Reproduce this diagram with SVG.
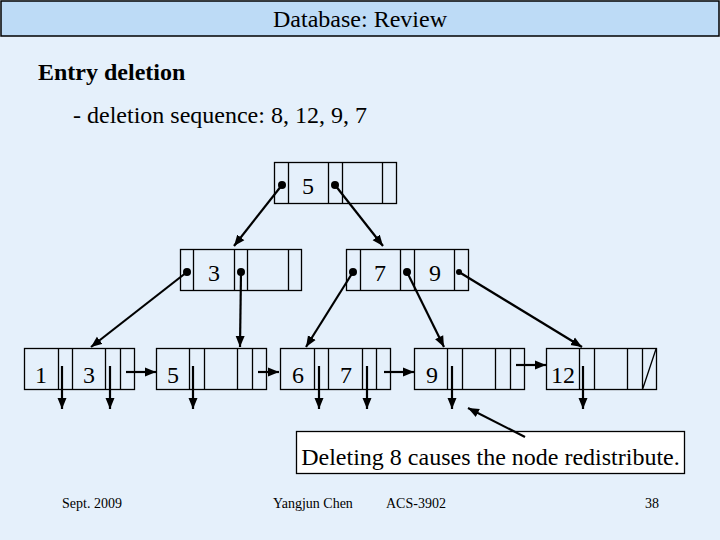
<svg xmlns="http://www.w3.org/2000/svg" width="720" height="540" viewBox="0 0 720 540">
<defs>
<marker id="ah" markerUnits="userSpaceOnUse" markerWidth="12" markerHeight="10" refX="11" refY="5" orient="auto">
<path d="M0,0.5 L11,5 L0,9.5 Z" fill="#000"/>
</marker>
<style>
.box{fill:none;stroke:#000;stroke-width:1.3}
.ln{stroke:#000;stroke-width:1.3}
.k{font-family:"Liberation Serif","Times New Roman",serif;font-size:24px;fill:#000;text-anchor:middle}
.ar{stroke:#000;stroke-width:2.2;fill:none;marker-end:url(#ah)}
.dot{fill:#000}
.ft{font-family:"Liberation Serif","Times New Roman",serif;font-size:14px;fill:#000}
.t{font-family:"Liberation Serif","Times New Roman",serif;font-size:24px;fill:#000}
</style>
</defs>
<rect x="0" y="0" width="720" height="540" fill="#E5F0FB"/>
<rect x="1" y="1" width="718" height="35" fill="#BDDBF6" stroke="#000" stroke-width="1.5"/>
<text class="t" x="360" y="27" text-anchor="middle">Database: Review</text>
<text class="t" x="38" y="80" font-weight="bold">Entry deletion</text>
<text class="t" x="73" y="123">- deletion sequence: 8, 12, 9, 7</text>

<g id="root">
<rect class="box" x="274.5" y="162.5" width="122" height="41"/>
<path class="ln" d="M288.5,162.5V203.5M328.5,162.5V203.5M342.5,162.5V203.5M382.5,162.5V203.5"/>
<text class="k" x="308" y="194">5</text>
<circle class="dot" cx="282" cy="185" r="4"/>
<circle class="dot" cx="335" cy="185" r="4"/>
</g>
<g id="inner-left">
<rect class="box" x="180.5" y="249.5" width="121" height="41"/>
<path class="ln" d="M193.5,249.5V290.5M234.5,249.5V290.5M247.5,249.5V290.5M288.5,249.5V290.5"/>
<text class="k" x="214" y="281">3</text>
<circle class="dot" cx="187" cy="272" r="4"/>
<circle class="dot" cx="241" cy="272" r="4"/>
</g>
<g id="inner-right">
<rect class="box" x="346.5" y="249.5" width="122" height="41"/>
<path class="ln" d="M360.5,249.5V290.5M400.5,249.5V290.5M414.5,249.5V290.5M454.5,249.5V290.5"/>
<text class="k" x="380" y="281">7</text>
<text class="k" x="435" y="281">9</text>
<circle class="dot" cx="353" cy="272" r="4"/>
<circle class="dot" cx="407" cy="272" r="4"/>
<circle class="dot" cx="459" cy="272" r="3"/>
</g>
<g id="leaf1">
<rect class="box" x="24.5" y="348.5" width="110" height="41"/>
<path class="ln" d="M58.5,348.5V389.5M72.5,348.5V389.5M105.5,348.5V389.5M120.5,348.5V389.5"/>
<text class="k" x="41" y="383">1</text>
<text class="k" x="89" y="383">3</text>
</g>
<g id="leaf2">
<rect class="box" x="156.5" y="348.5" width="110" height="41"/>
<path class="ln" d="M189.5,348.5V389.5M204.5,348.5V389.5M237.5,348.5V389.5M252.5,348.5V389.5"/>
<text class="k" x="173" y="383">5</text>
</g>
<g id="leaf3">
<rect class="box" x="280.5" y="348.5" width="110" height="41"/>
<path class="ln" d="M314.5,348.5V389.5M328.5,348.5V389.5M362.5,348.5V389.5M376.5,348.5V389.5"/>
<text class="k" x="298" y="383">6</text>
<text class="k" x="346" y="383">7</text>
</g>
<g id="leaf4">
<rect class="box" x="414.5" y="348.5" width="110" height="41"/>
<path class="ln" d="M447.5,348.5V389.5M462.5,348.5V389.5M495.5,348.5V389.5M510.5,348.5V389.5"/>
<text class="k" x="432" y="383">9</text>
</g>
<g id="leaf5">
<rect class="box" x="546.5" y="348.5" width="110" height="41"/>
<path class="ln" d="M579.5,348.5V389.5M594.5,348.5V389.5M627.5,348.5V389.5M642.5,348.5V389.5M642.5,389.5L656,349"/>
<text class="k" x="563" y="383">12</text>
</g>
<g id="callout">
<rect x="296.5" y="431.5" width="388" height="42" fill="#FFFFFF" stroke="#000" stroke-width="1.3"/>
<text class="t" x="490.5" y="465" text-anchor="middle">Deleting 8 causes the node redistribute.</text>
</g>
<g id="connectors">
<line class="ar" x1="282" y1="185" x2="234" y2="246"/>
<line class="ar" x1="335" y1="185" x2="383" y2="246"/>
<line class="ar" x1="187" y1="272" x2="91" y2="347"/>
<line class="ar" x1="241" y1="272" x2="240" y2="347"/>
<line class="ar" x1="353" y1="272" x2="306" y2="347"/>
<line class="ar" x1="407" y1="272" x2="444" y2="347"/>
<line class="ar" x1="459" y1="272" x2="582" y2="347"/>
<line class="ar" x1="62" y1="366" x2="62" y2="409"/>
<line class="ar" x1="110" y1="366" x2="110" y2="409"/>
<line class="ar" x1="193" y1="366" x2="193" y2="409"/>
<line class="ar" x1="319" y1="366" x2="319" y2="409"/>
<line class="ar" x1="367" y1="366" x2="367" y2="409"/>
<line class="ar" x1="452" y1="366" x2="452" y2="409"/>
<line class="ar" x1="583" y1="366" x2="583" y2="409"/>
<line class="ar" x1="126" y1="372" x2="156" y2="372"/>
<line class="ar" x1="258" y1="372" x2="279" y2="372"/>
<line class="ar" x1="384" y1="372" x2="414" y2="372"/>
<line class="ar" x1="516" y1="365" x2="546" y2="365"/>
<line class="ar" x1="525" y1="437" x2="468" y2="408"/>
</g>
<text class="ft" x="62" y="508">Sept. 2009</text>
<text class="ft" x="273" y="508">Yangjun Chen</text>
<text class="ft" x="386" y="508">ACS-3902</text>
<text class="ft" x="645" y="508">38</text>
</svg>
